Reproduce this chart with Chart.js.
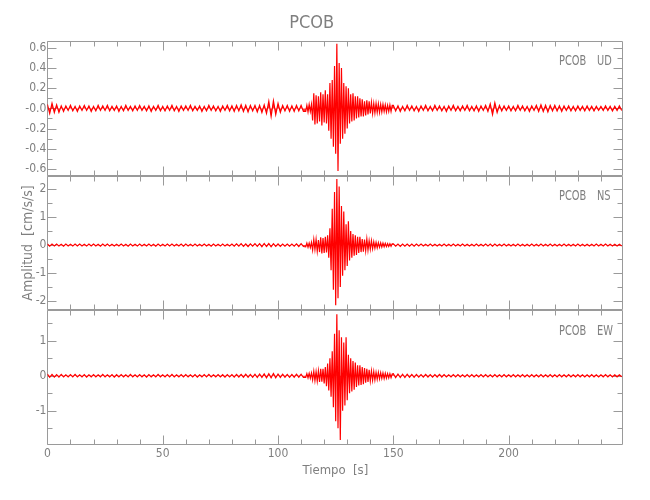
<!DOCTYPE html>
<html>
<head>
<meta charset="utf-8">
<title>PCOB</title>
<script src="https://cdn.jsdelivr.net/npm/chart.js@4.4.1/dist/chart.umd.min.js"></script>
<style>
  html, body { margin: 0; padding: 0; background: #fff; }
  #contenedor { width: 650px; height: 500px; }
</style>
</head>
<body>
<div id="contenedor"><canvas id="sismo" width="650" height="500"></canvas></div>
<script>
// Estación y componentes
const estacion = 'PCOB';
const componentes = ['UD', 'NS', 'EW'];

// Muestreo: ruido cada 1 s, evento (112-150 s) cada 0.5 s
const pasoRuido = 1;
const inicioEvento = 112;
const pasoEvento = 0.5;
const inicioDespues = 150;
const tiempoMax = 249.7;

// Picos (cm/s/s), signo alterno
const udAntes = [
  0.04,-0.05,0.05,-0.04,0.035,-0.04,0.025,-0.03,0.025,-0.02,
  0.03,-0.025,0.02,-0.03,0.025,-0.02,0.03,-0.02,0.025,-0.03,
  0.02,-0.025,0.03,-0.02,0.025,-0.02,0.03,-0.025,0.02,-0.02,
  0.025,-0.03,0.02,-0.025,0.03,-0.02,0.02,-0.025,0.025,-0.02,
  0.03,-0.02,0.02,-0.025,0.025,-0.03,0.02,-0.02,0.03,-0.025,
  0.02,-0.025,0.025,-0.02,0.03,-0.025,0.02,-0.03,0.025,-0.02,
  0.025,-0.02,0.03,-0.025,0.02,-0.02,0.025,-0.03,0.02,-0.025,
  0.03,-0.02,0.025,-0.025,0.02,-0.03,0.025,-0.02,0.03,-0.025,
  0.025,-0.03,0.03,-0.025,0.035,-0.03,0.03,-0.035,0.03,-0.025,
  0.03,-0.035,0.03,-0.04,0.035,-0.05,0.07,-0.08,0.075,-0.06,
  0.05,-0.04,0.03,-0.025,0.03,-0.03,0.025,-0.03,0.03,-0.025,
  0.03,-0.03
];
const udEvento = [
  -0.03,0.03,-0.035,0.04,-0.03,0.04,
  -0.12,0.15,-0.16,0.13,-0.15,0.12,
  -0.13,0.16,-0.17,0.14,-0.14,0.18,-0.15,0.14,
  -0.22,0.25,-0.3,0.28,
  -0.38,0.42,-0.45,0.64,
  -0.62,0.45,-0.35,0.4,
  -0.3,0.25,-0.25,0.22,-0.2,0.2,
  -0.15,0.14,-0.13,0.15,-0.12,0.12,-0.1,0.12,
  -0.09,0.1,-0.08,0.09,-0.08,0.07,-0.07,0.08,-0.06,0.07,
  -0.05,0.06,-0.05,0.05,-0.045,0.05,-0.04,0.045,-0.04,0.04,
  -0.035,0.04,-0.03,0.035,-0.035,0.03,-0.03,0.035,-0.03,0.03
];
const udDespues = [
  0.03,-0.025,0.025,-0.03,0.02,-0.025,0.03,-0.02,0.025,-0.025,
  0.02,-0.03,0.025,-0.02,0.03,-0.025,0.02,-0.025,0.03,-0.02,
  0.025,-0.025,0.02,-0.03,0.025,-0.02,0.03,-0.025,0.02,-0.025,
  0.025,-0.02,0.03,-0.025,0.02,-0.025,0.025,-0.03,0.025,-0.02,
  0.03,-0.03,0.045,-0.06,0.055,-0.04,0.03,-0.025,0.025,-0.02,
  0.025,-0.025,0.02,-0.025,0.03,-0.02,0.025,-0.025,0.02,-0.03,
  0.025,-0.02,0.03,-0.03,0.035,-0.03,0.03,-0.035,0.03,-0.025,
  0.03,-0.025,0.025,-0.03,0.025,-0.02,0.025,-0.025,0.02,-0.025,
  0.025,-0.02,0.02,-0.025,0.025,-0.02,0.02,-0.025,0.02,-0.02,
  0.02,-0.02,0.025,-0.02,0.02,-0.025,0.02,-0.02,0.025,-0.02
];

const nsAntes = [
  0.04,-0.04,0.035,-0.03,0.04,-0.035,0.03,-0.04,0.035,-0.03,
  0.03,-0.035,0.04,-0.03,0.035,-0.03,0.03,-0.035,0.04,-0.03,
  0.035,-0.03,0.03,-0.04,0.035,-0.03,0.04,-0.035,0.03,-0.03,
  0.03,-0.035,0.035,-0.03,0.03,-0.04,0.035,-0.03,0.03,-0.035,
  0.04,-0.03,0.03,-0.035,0.035,-0.03,0.03,-0.04,0.035,-0.03,
  0.03,-0.035,0.04,-0.03,0.035,-0.03,0.03,-0.035,0.035,-0.04,
  0.035,-0.03,0.03,-0.035,0.04,-0.03,0.03,-0.035,0.035,-0.03,
  0.03,-0.04,0.035,-0.03,0.03,-0.035,0.04,-0.035,0.03,-0.03,
  0.04,-0.04,0.045,-0.04,0.05,-0.045,0.04,-0.05,0.045,-0.04,
  0.05,-0.045,0.05,-0.055,0.06,-0.05,0.055,-0.06,0.05,-0.045,
  0.04,-0.045,0.04,-0.035,0.04,-0.04,0.035,-0.04,0.045,-0.05,
  0.05,-0.05
];
const nsEvento = [
  -0.06,0.07,-0.08,0.07,-0.09,0.1,
  -0.18,0.2,-0.16,0.2,-0.22,0.18,
  -0.25,0.28,-0.3,0.25,-0.28,0.3,-0.26,0.35,
  -0.45,0.6,-0.9,1.3,
  -1.6,1.9,-2.15,2.37,
  -1.9,2.1,-1.5,1.4,
  -1.1,1.2,-0.9,0.75,-0.75,0.85,
  -0.55,0.5,-0.45,0.4,-0.38,0.35,-0.35,0.3,
  -0.28,0.3,-0.25,0.22,-0.24,0.2,-0.2,0.22,-0.18,0.16,
  -0.15,0.16,-0.13,0.12,-0.11,0.1,-0.1,0.09,-0.08,0.08,
  -0.07,0.07,-0.06,0.06,-0.055,0.05,-0.05,0.05,-0.045,0.045
];
const nsDespues = [
  0.045,-0.04,0.04,-0.045,0.04,-0.035,0.04,-0.04,0.035,-0.04,
  0.035,-0.03,0.035,-0.035,0.03,-0.035,0.035,-0.03,0.03,-0.035,
  0.03,-0.035,0.035,-0.03,0.03,-0.03,0.035,-0.03,0.03,-0.035,
  0.035,-0.03,0.03,-0.035,0.03,-0.03,0.035,-0.035,0.03,-0.03,
  0.035,-0.035,0.04,-0.04,0.035,-0.035,0.03,-0.03,0.035,-0.03,
  0.03,-0.035,0.03,-0.03,0.035,-0.03,0.03,-0.035,0.03,-0.03,
  0.035,-0.03,0.03,-0.035,0.035,-0.03,0.03,-0.03,0.035,-0.03,
  0.03,-0.035,0.03,-0.03,0.035,-0.03,0.03,-0.035,0.03,-0.03,
  0.035,-0.03,0.03,-0.03,0.03,-0.035,0.03,-0.03,0.035,-0.03,
  0.03,-0.03,0.035,-0.03,0.03,-0.03,0.03,-0.035,0.03,-0.03
];

const ewAntes = [
  0.05,-0.045,0.04,-0.04,0.035,-0.04,0.04,-0.035,0.03,-0.035,
  0.035,-0.03,0.04,-0.035,0.03,-0.035,0.035,-0.04,0.03,-0.03,
  0.035,-0.035,0.03,-0.03,0.04,-0.035,0.03,-0.03,0.035,-0.04,
  0.03,-0.035,0.035,-0.03,0.03,-0.035,0.04,-0.03,0.03,-0.035,
  0.035,-0.03,0.03,-0.04,0.035,-0.03,0.03,-0.035,0.04,-0.03,
  0.03,-0.035,0.035,-0.03,0.04,-0.035,0.03,-0.03,0.035,-0.035,
  0.035,-0.03,0.03,-0.035,0.035,-0.04,0.03,-0.03,0.035,-0.03,
  0.04,-0.035,0.03,-0.03,0.035,-0.035,0.03,-0.04,0.035,-0.03,
  0.035,-0.04,0.04,-0.035,0.04,-0.04,0.045,-0.04,0.04,-0.045,
  0.045,-0.05,0.05,-0.045,0.055,-0.06,0.06,-0.055,0.065,-0.06,
  0.05,-0.045,0.045,-0.04,0.04,-0.045,0.04,-0.04,0.045,-0.04,
  0.045,-0.05
];
const ewEvento = [
  -0.05,0.06,-0.06,0.07,-0.07,0.08,
  -0.12,0.13,-0.14,0.12,-0.15,0.14,
  -0.18,0.2,-0.17,0.2,-0.22,0.25,-0.3,0.35,
  -0.42,0.5,-0.6,0.7,
  -0.9,1.2,-1.3,1.76,
  -1.5,1.3,-1.84,1.1,
  -1.0,0.95,-0.85,1.1,-0.7,0.6,
  -0.5,0.5,-0.45,0.42,-0.4,0.38,-0.32,0.3,
  -0.28,0.3,-0.26,0.25,-0.24,0.22,-0.2,0.2,-0.18,0.17,
  -0.15,0.14,-0.13,0.12,-0.12,0.1,-0.1,0.1,-0.09,0.09,
  -0.08,0.08,-0.08,0.07,-0.07,0.06,-0.06,0.06,-0.055,0.05
];
const ewDespues = [
  0.06,-0.055,0.05,-0.05,0.045,-0.05,0.045,-0.04,0.04,-0.045,
  0.04,-0.04,0.035,-0.04,0.04,-0.035,0.035,-0.04,0.035,-0.035,
  0.04,-0.035,0.035,-0.035,0.03,-0.035,0.035,-0.03,0.035,-0.035,
  0.03,-0.035,0.035,-0.03,0.035,-0.035,0.03,-0.03,0.035,-0.03,
  0.035,-0.035,0.03,-0.035,0.035,-0.03,0.03,-0.035,0.035,-0.03,
  0.03,-0.03,0.035,-0.035,0.03,-0.03,0.035,-0.03,0.03,-0.035,
  0.035,-0.03,0.03,-0.03,0.035,-0.035,0.03,-0.03,0.035,-0.03,
  0.03,-0.035,0.035,-0.03,0.03,-0.03,0.035,-0.035,0.03,-0.03,
  0.035,-0.03,0.03,-0.035,0.03,-0.03,0.035,-0.03,0.03,-0.035,
  0.03,-0.03,0.035,-0.03,0.03,-0.035,0.03,-0.03,0.03,-0.03
];

// Marcas de los ejes
const xTicks = [0, 50, 100, 150, 200];
const udTicks = [-0.6, -0.4, -0.2, 0, 0.2, 0.4, 0.6];
const udEtiquetas = ['-0.6', '-0.4', '-0.2', '-0.0', '0.2', '0.4', '0.6'];
const nsTicks = [-2, -1, 0, 1, 2];
const nsEtiquetas = ['-2', '-1', '0', '1', '2'];
const ewTicks = [-1, 0, 1];
const ewEtiquetas = ['-1', '0', '1'];

const fuente = "'Liberation Sans Narrow', 'DejaVu Sans Condensed', 'Liberation Sans', sans-serif";
const gris = '#7f7f7f';
const grisEje = '#9a9a9a';

// Arma los puntos (tiempo, amplitud) de cada componente
function armarSerie(antes, evento, despues) {
    const puntos = [];
    antes.forEach((v, i) => puntos.push({ x: i * pasoRuido, y: v }));
    evento.forEach((v, i) => puntos.push({ x: inicioEvento + i * pasoEvento, y: v }));
    despues.forEach((v, i) => puntos.push({ x: inicioDespues + i * pasoRuido, y: v }));
    return puntos;
}

// Ejes de cada panel (de arriba a abajo): [id, ticks, etiquetas, min, max, paso menor]
const paneles = [
    ['yUD', udTicks, udEtiquetas, -0.665, 0.67, 0.1],
    ['yNS', nsTicks, nsEtiquetas, -2.34, 2.49, 0.5],
    ['yEW', ewTicks, ewEtiquetas, -1.99, 1.87, 0.5]
];

function ejeY(p, peso) {
    return {
        type: 'linear',
        position: 'left',
        stack: 'sismo',
        stackWeight: 1,
        weight: peso,
        min: p[3],
        max: p[4],
        grid: { display: false, drawTicks: false },
        border: { display: false },
        afterBuildTicks: s => { s.ticks = p[1].map(v => ({ value: v })); },
        afterFit: s => { s.width = 47.4; },
        ticks: {
            autoSkip: false,
            padding: 1,
            color: gris,
            font: { family: fuente, size: 12 },
            callback: (v, i) => p[2][i]
        },
        title: p[0] === 'yNS' ? {
            display: true,
            text: 'Amplitud  [cm/s/s]',
            color: gris,
            font: { family: fuente, size: 14 },
            padding: { top: 20, bottom: 0 }
        } : { display: false }
    };
}

// Marco con marcas hacia adentro en los cuatro lados de cada panel
const marcoPlugin = {
    id: 'marco',
    beforeDatasetsDraw(chart) {
        const ctx = chart.ctx;
        const sx = chart.scales.x;
        const izq = Math.round(sx.left) + 0.5;
        const der = Math.round(sx.right) - 0.5;
        ctx.save();
        ctx.strokeStyle = grisEje;
        ctx.lineWidth = 1;
        paneles.forEach(p => {
            const sy = chart.scales[p[0]];
            const arr = Math.round(sy.top) + 0.5;
            const abj = Math.round(sy.bottom) - 0.5;
            ctx.beginPath();
            ctx.rect(izq, arr, der - izq, abj - arr);
            // marcas verticales
            const menores = [];
            for (let k = Math.ceil(sy.min / p[5] - 1e-6); k * p[5] <= sy.max + 1e-9; k++) menores.push(k * p[5]);
            menores.forEach(v => {
                const mayor = p[1].some(t => Math.abs(t - v) < 1e-6);
                const L = mayor ? 9 : 5;
                const y = Math.round(sy.getPixelForValue(v)) + 0.5;
                ctx.moveTo(izq, y); ctx.lineTo(izq + L, y);
                ctx.moveTo(der, y); ctx.lineTo(der - L, y);
            });
            // marcas horizontales
            for (let t = 0; t <= tiempoMax; t += 10) {
                const L = xTicks.includes(t) ? 9 : 5;
                const x = Math.round(sx.getPixelForValue(t)) + 0.5;
                ctx.moveTo(x, arr); ctx.lineTo(x, arr + L);
                ctx.moveTo(x, abj); ctx.lineTo(x, abj - L);
            }
            ctx.stroke();
        });
        ctx.restore();
    },
    afterDraw(chart) {
        const ctx = chart.ctx;
        ctx.save();
        ctx.fillStyle = gris;
        ctx.font = '14px ' + fuente;
        ctx.textBaseline = 'middle';
        paneles.forEach((p, i) => {
            const sy = chart.scales[p[0]];
            const y = sy.top + 21;
            ctx.save();
            ctx.translate(559, y);
            ctx.scale(0.78, 1);
            ctx.fillText(estacion, 0, 0);
            ctx.restore();
            ctx.save();
            ctx.translate(597, y);
            ctx.scale(0.78, 1);
            ctx.fillText(componentes[i], 0, 0);
            ctx.restore();
        });
        ctx.restore();
    }
};

const scales = {
    x: {
        type: 'linear',
        position: 'bottom',
        min: 0,
        max: tiempoMax,
        grid: { display: false, drawTicks: false },
        border: { display: false },
        afterBuildTicks: s => { s.ticks = xTicks.map(v => ({ value: v })); },
        afterFit: s => { s.height = 54.7; },
        ticks: {
            autoSkip: false,
            maxRotation: 0,
            padding: 1,
            color: gris,
            font: { family: fuente, size: 12 }
        },
        title: {
            display: true,
            text: 'Tiempo  [s]',
            color: gris,
            font: { family: fuente, size: 13 },
            padding: { top: 0, bottom: 22 }
        }
    }
};
// el de mayor peso queda arriba en la pila
paneles.forEach((p, i) => { scales[p[0]] = ejeY(p, paneles.length - i); });

const datos = [
    armarSerie(udAntes, udEvento, udDespues),
    armarSerie(nsAntes, nsEvento, nsDespues),
    armarSerie(ewAntes, ewEvento, ewDespues)
];

new Chart(document.getElementById('sismo').getContext('2d'), {
    type: 'line',
    data: {
        datasets: paneles.map((p, i) => ({
            label: estacion + ' ' + componentes[i],
            data: datos[i],
            yAxisID: p[0],
            xAxisID: 'x',
            borderColor: '#ff0000',
            backgroundColor: 'rgba(255, 0, 0, 0.75)',
            borderWidth: 1.2,
            pointRadius: 0,
            tension: 0,
            fill: 'origin'
        }))
    },
    options: {
        responsive: false,
        animation: false,
        parsing: false,
        layout: { padding: { left: 0, right: 26.7, top: 0, bottom: 0 } },
        plugins: {
            legend: { display: false },
            tooltip: { enabled: false },
            filler: { propagate: false },
            title: {
                display: true,
                text: estacion,
                color: gris,
                font: { family: fuente, size: 18, weight: 'normal' },
                padding: { top: 12.7, bottom: 6.4 }
            }
        },
        scales: scales
    },
    plugins: [marcoPlugin]
});
</script>
</body>
</html>
